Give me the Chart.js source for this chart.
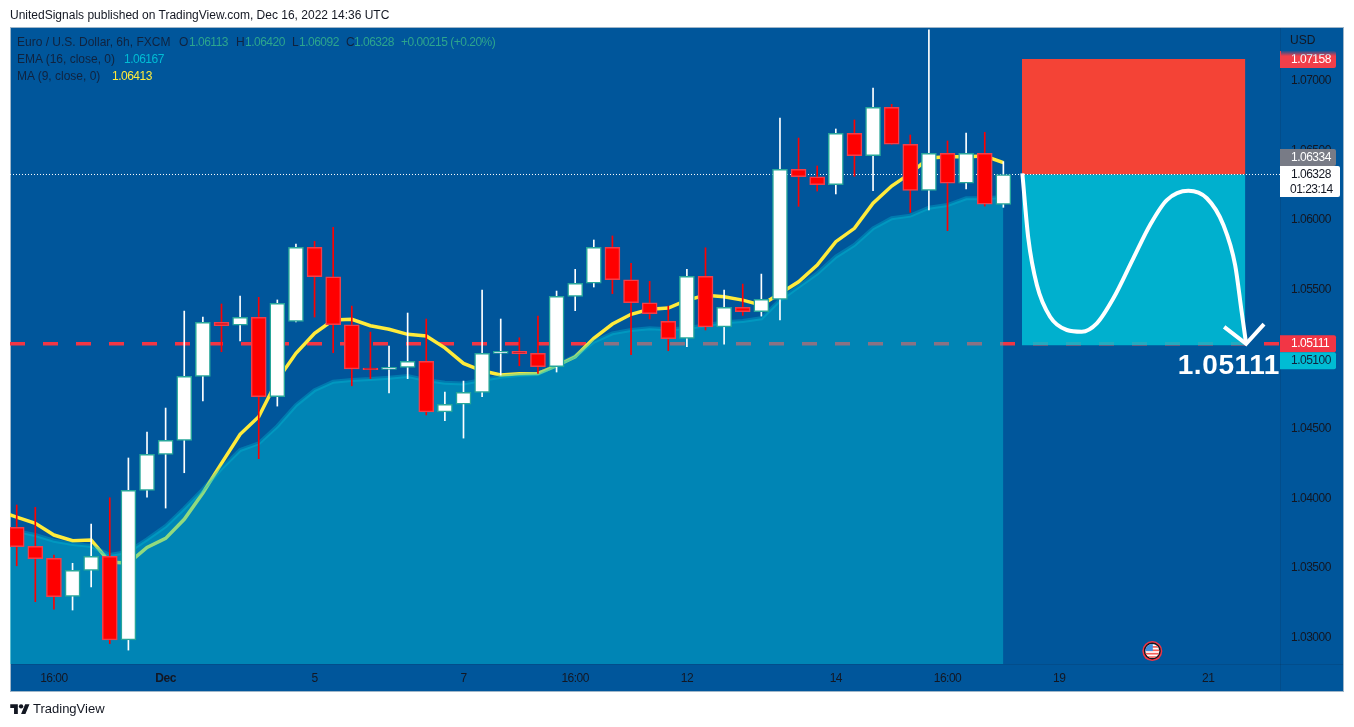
<!DOCTYPE html>
<html><head><meta charset="utf-8">
<style>
html,body{margin:0;padding:0;background:#fff;width:1354px;height:727px;overflow:hidden}
canvas{position:absolute;left:0;top:0}
.t{position:absolute;white-space:pre;font:12px "Liberation Sans",sans-serif;color:#131722;line-height:14px}
.n{letter-spacing:-0.5px}
</style>
<script src="https://cdn.jsdelivr.net/npm/chart.js@4"></script>
</head><body>
<canvas id="c" width="1354" height="727"></canvas>
<div class="t" style="left:10px;top:8px">UnitedSignals published on TradingView.com, Dec 16, 2022 14:36 UTC</div>
<div class="t" style="left:17px;top:35px;color:#10233f">Euro / U.S. Dollar, 6h, FXCM</div>
<div class="t" style="left:179px;top:35px;color:#10233f">O</div><div class="t n" style="left:189px;top:35px;color:#2ca58d">1.06113</div>
<div class="t" style="left:236px;top:35px;color:#10233f">H</div><div class="t n" style="left:245px;top:35px;color:#2ca58d">1.06420</div>
<div class="t" style="left:292px;top:35px;color:#10233f">L</div><div class="t n" style="left:299px;top:35px;color:#2ca58d">1.06092</div>
<div class="t" style="left:346px;top:35px;color:#10233f">C</div><div class="t n" style="left:354px;top:35px;color:#2ca58d">1.06328</div>
<div class="t n" style="left:401px;top:35px;color:#2ca58d">+0.00215 (+0.20%)</div>
<div class="t" style="left:17px;top:52px;color:#10233f">EMA (16, close, 0)</div><div class="t n" style="left:124px;top:52px;color:#00bcd4">1.06167</div>
<div class="t" style="left:17px;top:69px;color:#10233f">MA (9, close, 0)</div><div class="t n" style="left:112px;top:69px;color:#ffeb3b">1.06413</div>
<svg style="position:absolute;left:10px;top:702px" width="20" height="13" viewBox="0 0 36 24"><path fill="#131722" d="M14 22H7V11H0V4h14v18zM28 22h-8l7.5-18h8L28 22z"/><circle cx="20" cy="8" r="4" fill="#131722"/></svg>
<div class="t" style="left:33px;top:702px;font-size:13px">TradingView</div>
<script>
const xTickValues=[2,8,16,24,30,36,44,50,56,64];
const xTickLabels=["16:00","Dec","5","7","16:00","12","14","16:00","19","21"];
const yTickValues=[1.03,1.035,1.04,1.045,1.05,1.055,1.06,1.065,1.07];

const opens=[1.03792,1.03655,1.03569,1.03295,1.03482,1.03583,1.02983,1.04057,1.04316,1.04417,1.04877,1.05265,1.05244,1.05301,1.0473,1.05272,1.05804,1.05593,1.05248,1.04936,1.04927,1.04941,1.04985,1.04622,1.04676,1.04762,1.05042,1.05057,1.05042,1.04946,1.05452,1.05546,1.05804,1.05571,1.05406,1.05272,1.0515,1.05596,1.05233,1.05373,1.05341,1.0543,1.06365,1.06312,1.06254,1.06624,1.06463,1.06811,1.06545,1.06214,1.0648,1.06265,1.0648,1.06113];
const highs=[1.03952,1.03935,1.03592,1.03533,1.03815,1.04004,1.0429,1.04476,1.04649,1.05346,1.05303,1.05397,1.05454,1.05445,1.05426,1.05828,1.05847,1.05948,1.05382,1.05195,1.05095,1.05332,1.05289,1.04764,1.04843,1.05497,1.05289,1.05154,1.0531,1.0549,1.05646,1.05857,1.05886,1.05689,1.0556,1.05382,1.05646,1.05801,1.05497,1.0554,1.05612,1.06734,1.0659,1.06389,1.06655,1.0672,1.0695,1.06832,1.06612,1.07367,1.06569,1.06626,1.06631,1.0642];
const lows=[1.03515,1.03257,1.03204,1.03197,1.03364,1.02955,1.02909,1.04009,1.0393,1.04184,1.04701,1.05054,1.05131,1.04285,1.04663,1.05268,1.05303,1.05047,1.04809,1.0486,1.04757,1.0486,1.04599,1.04558,1.04433,1.0473,1.04886,1.04953,1.04898,1.04908,1.05349,1.05519,1.05471,1.05032,1.05289,1.05061,1.0509,1.0521,1.05109,1.05315,1.0531,1.05282,1.06099,1.06209,1.06188,1.06315,1.06211,1.06545,1.06056,1.06073,1.05924,1.06224,1.06101,1.06092];
const closes=[1.03652,1.03566,1.03293,1.03482,1.03583,1.02983,1.04057,1.04316,1.04417,1.04877,1.05265,1.05241,1.05301,1.0473,1.05402,1.05804,1.05593,1.05248,1.04931,1.04924,1.04941,1.04985,1.04622,1.04676,1.04762,1.05042,1.05057,1.05039,1.04946,1.05452,1.05546,1.05804,1.05571,1.05406,1.05327,1.05147,1.05596,1.05233,1.05373,1.05341,1.0543,1.06365,1.06312,1.06254,1.06624,1.06463,1.06811,1.06545,1.06214,1.0648,1.06265,1.0648,1.06114,1.06328];

/* both averages start one bar left of the first candle */
const maValues=[1.03908,1.03865,1.0382,1.03736,1.03695,1.037,1.03542,1.03534,1.03647,1.03712,1.03849,1.04038,1.04251,1.0446,1.04586,1.0485,1.05042,1.05186,1.05282,1.05287,1.05241,1.05215,1.05179,1.05167,1.05082,1.0497,1.04917,1.04886,1.04896,1.04898,1.04953,1.05018,1.0515,1.05253,1.05323,1.05359,1.05368,1.05425,1.05459,1.05449,1.05425,1.05389,1.05472,1.05557,1.05677,1.05845,1.05941,1.06121,1.06245,1.06336,1.06446,1.06456,1.06456,1.06461,1.06413];
const emaValues=[1.03779,1.03764,1.03736,1.03695,1.03671,1.03657,1.03592,1.03616,1.03705,1.038,1.03928,1.04064,1.04215,1.04347,1.04395,1.04519,1.0467,1.04778,1.04838,1.0485,1.04857,1.04867,1.04879,1.0485,1.04831,1.04826,1.0485,1.04874,1.04886,1.04893,1.04958,1.05023,1.05126,1.05186,1.0521,1.05222,1.05215,1.05222,1.05244,1.05265,1.05274,1.05294,1.05425,1.05521,1.05617,1.05737,1.05821,1.05941,1.06013,1.06032,1.06089,1.06108,1.06157,1.06157,1.06167];

const targetPrice=1.05111, lastClose=1.06328, stopPrice=1.07158, profitPrice=1.051;
const toolStart=54, toolEnd=66;
const pathX=[54.02,54.34,54.8,55.51,56.41,57.21,58.02,58.91,59.98,60.88,61.78,62.94,63.93,64.82,65.45,65.8,66.04];
const pathY=[1.06336,1.05869,1.05533,1.05305,1.0521,1.05198,1.05258,1.05438,1.05725,1.05965,1.06144,1.06211,1.06157,1.05965,1.05677,1.05341,1.05111];
const arrowX=[64.86,66.04,67];
const arrowY=[1.05233,1.05111,1.05252];
const eventIndex=61, eventPrice=1.02902;

const xMin=-0.36,xMax=67.86,yMin=1.02809,yMax=1.07381;
const UP='#ffffff',DOWN='#ff0000',UPB='#26a69a',DOWNB='#f23f4a';
const isUp=i=>closes[i]>=opens[i];
const idx=closes.map((_,i)=>i);

const panel={id:'panel',beforeDraw(ch){const c=ch.ctx;c.save();
  c.fillStyle='#00569b';c.fillRect(10,27,1334,664);
  c.strokeStyle='rgba(19,23,34,0.13)';c.lineWidth=1;
  c.beginPath();c.moveTo(1280.5,28);c.lineTo(1280.5,691);c.moveTo(11,664.5);c.lineTo(1343,664.5);c.stroke();
  c.strokeStyle='#9fb6c9';c.strokeRect(10.5,27.5,1333,664);c.restore();
  c.letterSpacing='-0.5px';}};

function tag(c,y,h,w,bg,fg,txt,sub){
  c.fillStyle=bg;c.beginPath();c.roundRect(1280,y,w,h,[0,2,2,0]);c.fill();
  c.fillStyle=fg;c.textAlign='left';c.textBaseline='middle';c.font='12px "Liberation Sans"';
  c.fillText(txt,1291,y+8.7);
  if(sub)c.fillText(sub,1290,y+23.5);
}
const overlay={id:'overlay',afterDraw(ch){
  const c=ch.ctx,ys=ch.scales.y,xs=ch.scales.x;c.save();
  c.letterSpacing='0px';
  c.fillStyle='#131722';c.font='12px "Liberation Sans"';c.textAlign='left';c.textBaseline='middle';
  c.fillText('USD',1290,41);
  c.letterSpacing='-0.5px';
  const stopTop=ys.getPixelForValue(stopPrice)-8;
  tag(c,stopTop,17,56,'#f23f4a','#ffffff','1.07158');
  const g=c.createLinearGradient(0,stopTop,0,stopTop+5);g.addColorStop(0,'rgba(0,86,155,0.9)');g.addColorStop(1,'rgba(0,86,155,0)');
  c.fillStyle=g;c.fillRect(1281,stopTop,55,5);
  const whiteTop=ys.getPixelForValue(lastClose)-8.5;
  tag(c,whiteTop-17,17,56,'#787b86','#ffffff','1.06334');
  tag(c,whiteTop,31,60,'#ffffff','#131722','1.06328','01:23:14');
  const redTop=ys.getPixelForValue(targetPrice)-8.5;
  tag(c,redTop,17,56,'#f23645','#ffffff','1.05111');
  tag(c,redTop+17,17,56,'#00bcd4','#10233f','1.05100');
  c.letterSpacing='0.6px';
  c.fillStyle='#ffffff';c.font='bold 28px "Liberation Sans"';c.textAlign='right';c.textBaseline='alphabetic';
  c.fillText('1.05111',1280,374);
  const fx=xs.getPixelForValue(eventIndex),fy=ys.getPixelForValue(eventPrice);
  c.beginPath();c.arc(fx,fy,10,0,7);c.fillStyle='#f23645';c.fill();
  c.beginPath();c.arc(fx,fy,8.5,0,7);c.fillStyle='#131722';c.fill();
  c.save();c.beginPath();c.arc(fx,fy,7,0,7);c.clip();
  c.fillStyle='#ffffff';c.fillRect(fx-8,fy-8,16,16);
  c.fillStyle='#f5605a';for(let k=0;k<4;k++)c.fillRect(fx-8,fy-5+k*3.4,16,1.7);
  c.fillStyle='#3f8fe0';c.fillRect(fx-8,fy-8,8.5,8);c.restore();
  c.restore();}};

new Chart(document.getElementById('c'),{
  type:'bar',
  data:{datasets:[
    {type:'line',order:20,data:[{x:xMin,y:targetPrice},{x:xMax,y:targetPrice}],borderColor:'#f23645',borderWidth:3.5,borderDash:[15,18],pointRadius:0},
    {type:'line',order:19,data:maValues.map((v,i)=>({x:i-1,y:v})),borderColor:'#ffeb3b',borderWidth:3.5,pointRadius:0,tension:0},
    {type:'line',order:18,data:emaValues.map((v,i)=>({x:i-1,y:v})),borderColor:'rgba(0,188,212,0.35)',borderWidth:4,pointRadius:0,tension:0,fill:'start',backgroundColor:'rgba(0,195,216,0.43)'},
    {type:'line',order:17,data:[{x:toolStart,y:stopPrice},{x:toolEnd,y:stopPrice}],borderWidth:0,pointRadius:0,fill:{value:lastClose},backgroundColor:'#f44336'},
    {type:'line',order:16,data:[{x:toolStart,y:lastClose},{x:toolEnd,y:lastClose}],borderWidth:0,pointRadius:0,fill:{value:profitPrice},backgroundColor:'rgba(0,191,215,0.85)'},
    {type:'line',order:15,data:[{x:xMin,y:lastClose},{x:xMax,y:lastClose}],borderColor:'#ffffff',borderWidth:1,borderDash:[1,2],pointRadius:0},
    {order:5,data:idx.map(i=>({x:i,y:[lows[i],highs[i]]})),barThickness:1,grouped:false,borderWidth:0,backgroundColor:idx.map(i=>isUp(i)?UP:DOWN)},
    {order:4,data:idx.map(i=>({x:i,y:[opens[i],closes[i]]})),barThickness:15,grouped:false,borderWidth:1.5,borderSkipped:false,backgroundColor:idx.map(i=>isUp(i)?UP:DOWN),borderColor:idx.map(i=>isUp(i)?UPB:DOWNB)},
    {type:'line',order:2,data:pathX.map((x,i)=>({x,y:pathY[i]})),borderColor:'#ffffff',borderWidth:4,pointRadius:0,cubicInterpolationMode:'monotone'},
    {type:'line',order:1,data:arrowX.map((x,i)=>({x,y:arrowY[i]})),borderColor:'#ffffff',borderWidth:4,pointRadius:0,tension:0}
  ]},
  options:{responsive:false,animation:false,devicePixelRatio:1,
    layout:{padding:{left:10,top:28,right:11,bottom:36}},
    plugins:{legend:{display:false},tooltip:{enabled:false}},
    scales:{
      x:{type:'linear',offset:false,min:xMin,max:xMax,position:'bottom',
        grid:{display:false,drawTicks:false},border:{display:false},
        afterBuildTicks(s){s.ticks=xTickValues.map(v=>({value:v}));},
        afterFit(s){s.height=27;},
        ticks:{autoSkip:false,maxRotation:0,padding:7,color:'#131722',
          callback:v=>xTickLabels[xTickValues.indexOf(v)],
          font:ctx=>({family:'Liberation Sans',size:12,weight:(ctx.tick&&ctx.tick.value===8)?'bold':'normal'})}},
      y:{type:'linear',position:'right',min:yMin,max:yMax,
        grid:{display:false,drawTicks:false},border:{display:false},
        afterBuildTicks(s){s.ticks=yTickValues.map(v=>({value:v}));},
        afterFit(s){s.width=63;},
        ticks:{padding:11,color:'#131722',autoSkip:false,crossAlign:'near',align:'center',
          callback:v=>v.toFixed(5),font:{family:'Liberation Sans',size:12}}}
    }},
  plugins:[panel,overlay]
});
</script>
</body></html>
